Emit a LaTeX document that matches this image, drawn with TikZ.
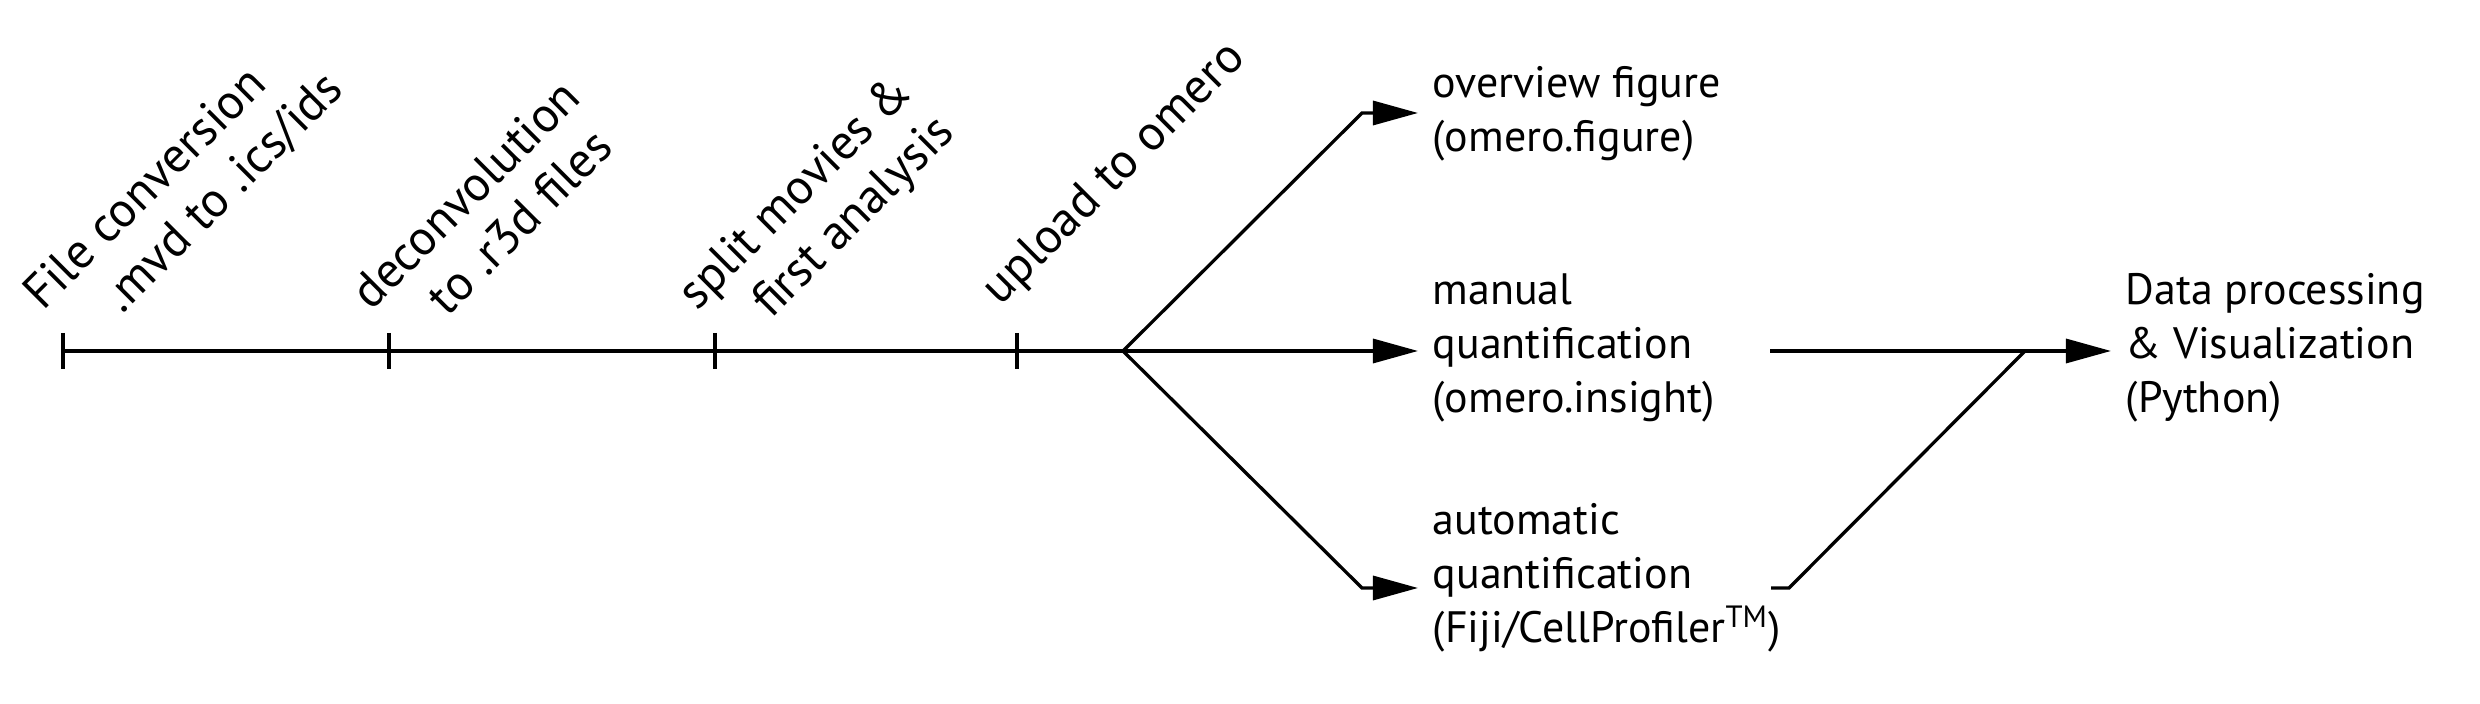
\documentclass[tikz,border=0pt]{standalone}
\usepackage{fontspec}
\setmainfont{PT Sans}
\usetikzlibrary{arrows.meta}
\begin{document}
\begin{tikzpicture}[x=0.01cm,y=-0.01cm,
  lbl/.style={font=\fontsize{12.5}{15.4}\selectfont, inner xsep=0.14cm, inner ysep=0pt, anchor=base west, align=left},
  rlbl/.style={font=\fontsize{14}{16.5}\selectfont, inner sep=0pt, anchor=base west, align=left, rotate=45},
  ln/.style={line width=0.033cm},
  tickline/.style={line width=0.04cm},
  arr/.style={ln, -{Triangle[length=0.45cm,width=0.24cm]}}]
\useasboundingbox (0,0) rectangle (2480,704);
% timeline
\coordinate (t1) at (63,351);
\coordinate (t2) at (389,351);
\coordinate (t3) at (715,351);
\coordinate (t4) at (1017,351);
\coordinate (b) at (1123,351);
\draw[ln] (t1) -- (b);
\foreach \t in {t1,t2,t3,t4}{\draw[tickline] (\t) ++(0,-18) -- ++(0,36);}
% rotated labels (anchor = baseline of last line)
\node[rlbl] (l1) at (84,353) {File conversion\\\hspace*{0.54cm}.mvd to .ics/ids};
\node[rlbl] (l2) at (412,353) {deconvolution\\\hspace*{0.5cm}to .r3d files};
\node[rlbl] (l3) at (738,353) {split movies \&\\\hspace*{0.46cm}first analysis};
\node[rlbl] (l4) at (1000,307) {upload to omero};
% right labels (anchor = baseline of last line)
\node[lbl] (ov) at (1418,152) {overview figure\\(omero.figure)};
\node[lbl] (mq) at (1418,413) {manual\\quantification\\(omero.insight)};
\node[lbl] (aq) at (1418,643) {automatic\\quantification\\(Fiji/CellProfiler\textsuperscript{TM})};
\node[lbl] (dp) at (2111,413) {Data processing\\\&~Visualization\\(Python)};
% branches
\coordinate (cu) at (1362,113);
\coordinate (cl) at (1362,588);
\draw[arr] (b) -- (cu) -- (cu -| ov.west);
\draw[arr] (b) -- (b -| mq.west);
\draw[arr] (b) -- (cl) -- (cl -| aq.west);
% merge
\coordinate (ms) at (1770,351);
\coordinate (as) at (1771,588);
\coordinate (ak) at (1789,588);
\coordinate (j) at (2025,351);
\draw[arr] (ms) -- (ms -| dp.west);
\draw[ln] (as) -- (ak) -- (j);
\end{tikzpicture}
\end{document}
